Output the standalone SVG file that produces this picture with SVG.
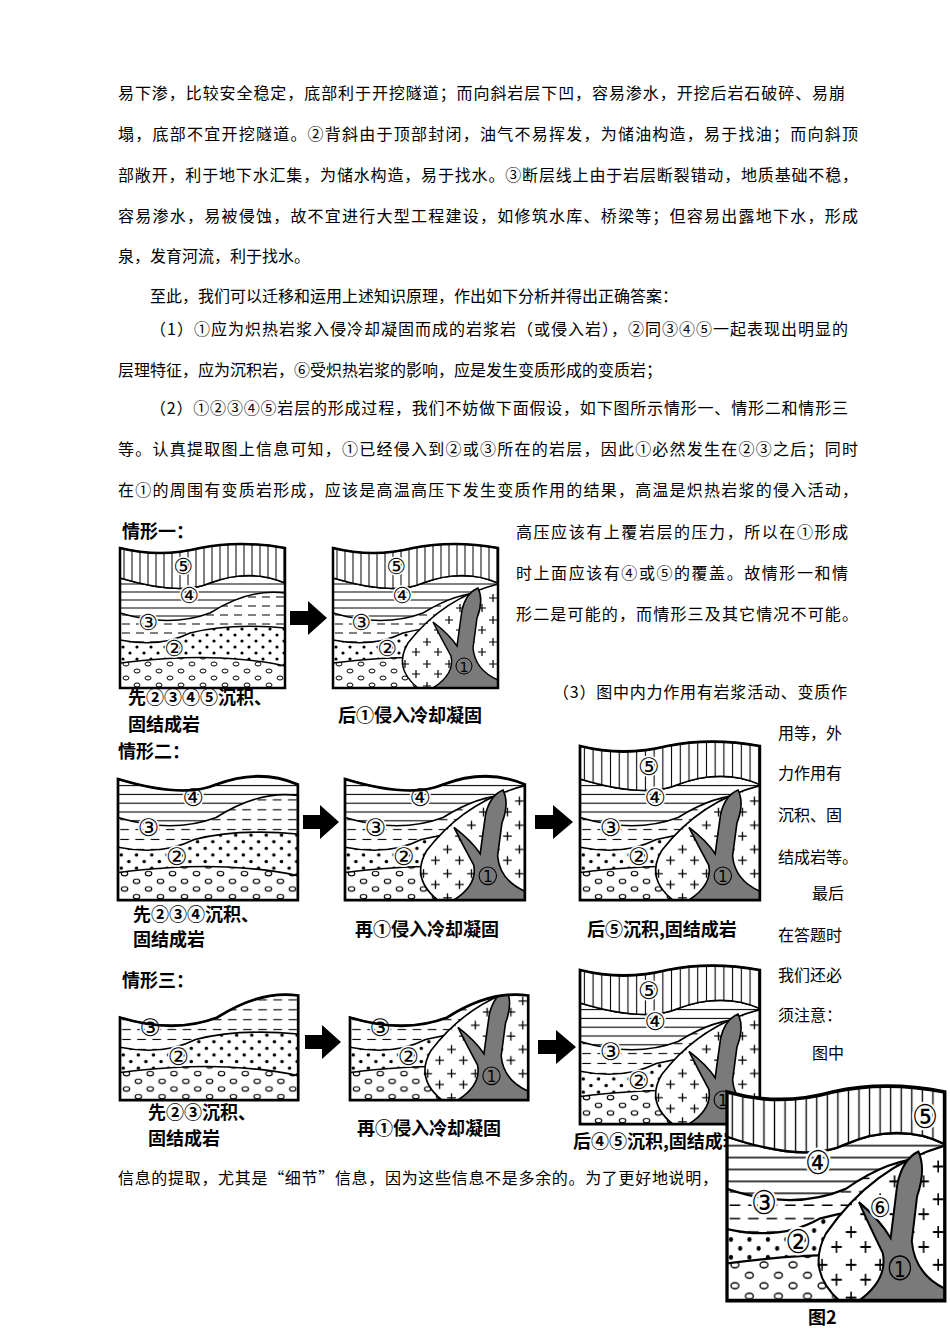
<svg xmlns="http://www.w3.org/2000/svg" width="950" height="1344" viewBox="0 0 950 1344">
<style>
.t{font-family:"Noto Sans CJK SC","Liberation Serif",serif;font-size:16px;fill:#000}
.b{font-family:"Noto Sans CJK SC","Liberation Sans",sans-serif;font-size:18px;font-weight:bold;fill:#000}
.n{font-family:"DejaVu Sans",sans-serif;font-size:22px;fill:#000;text-anchor:middle;paint-order:stroke;stroke:#fff;stroke-width:3px}
.ly{stroke:#000;stroke-width:1.5}
.fr{fill:none;stroke:#000;stroke-width:2.5}
</style>
<defs>
<pattern id="pv" width="8" height="10" patternUnits="userSpaceOnUse"><rect width="8" height="10" fill="#fff"/><line x1="4" y1="0" x2="4" y2="10" stroke="#000" stroke-width="1"/></pattern>
<pattern id="ph" width="10" height="8" patternUnits="userSpaceOnUse"><rect width="10" height="8" fill="#fff"/><line x1="0" y1="4" x2="10" y2="4" stroke="#000" stroke-width="1"/></pattern>
<pattern id="pd" width="14" height="9" patternUnits="userSpaceOnUse"><rect width="14" height="9" fill="#fff"/><line x1="2" y1="4" x2="10" y2="4" stroke="#000" stroke-width="1"/></pattern>
<pattern id="pdot" width="14" height="12" patternUnits="userSpaceOnUse"><rect width="14" height="12" fill="#fff"/><circle cx="3" cy="3" r="1.6"/><circle cx="10" cy="9" r="1.6"/></pattern>
<pattern id="pov" width="22" height="14" patternUnits="userSpaceOnUse"><rect width="22" height="14" fill="#fff"/><ellipse cx="6" cy="4" rx="3" ry="2" fill="none" stroke="#000"/><ellipse cx="17" cy="11" rx="3" ry="2" fill="none" stroke="#000"/></pattern>
<pattern id="pp" width="22" height="22" patternUnits="userSpaceOnUse"><rect width="22" height="22" fill="#fff"/><path d="M2,6h8M6,2v8M13,16h8M17,12v8" stroke="#000" stroke-width="1.2"/></pattern>
<g id="L4"><path class="ly" fill="url(#ph)" d="M0,30 Q60,48 90,35 Q130,20 165,35 L165,140 L0,140Z"/></g>
<g id="L5"><path class="ly" fill="url(#pv)" d="M0,0 Q40,10 80,0 Q120,-8 165,0 L165,35 Q130,20 90,35 Q60,48 0,30Z"/></g>
<g id="L321">
<path class="ly" fill="url(#pd)" d="M0,65 Q50,80 90,65 Q130,40 165,45 L165,140 L0,140Z"/>
<path class="ly" fill="url(#pdot)" d="M0,92 Q40,100 70,85 Q110,75 165,80 L165,140 L0,140Z"/>
<path class="ly" fill="url(#pov)" d="M0,115 Q60,108 100,110 Q140,112 165,118 L165,140 L0,140Z"/>
</g>
<g id="intr">
<path class="ly" fill="url(#pp)" d="M165,36 Q110,50 75,95 Q60,120 85,140 L165,140Z"/>
<path class="ly" fill="#7a7a7a" d="M100,140 Q122,126 118,108 Q108,90 100,74 Q116,86 124,98 L129,62 Q133,45 145,40 Q151,52 144,70 L140,100 Q142,122 165,132 L165,140Z"/>
<circle cx="131" cy="118" r="8" fill="none" stroke="#000"/><text x="131" y="124" style="font-family:'DejaVu Sans',sans-serif;font-size:14px;text-anchor:middle">1</text>
</g>
<g id="lab23"><text class="n" x="28" y="82">③</text><text class="n" x="54" y="108">②</text></g>
<g id="lab4"><text class="n" x="69" y="55">④</text></g>
<g id="lab5"><text class="n" x="63" y="26">⑤</text></g>
<clipPath id="c3"><path d="M0,65 Q50,80 90,65 Q130,40 165,45 L165,140 L0,140Z"/></clipPath>
</defs>

<g id="text">
<text class="t" x="118" y="99" textLength="727">易下渗，比较安全稳定，底部利于开挖隧道；而向斜岩层下凹，容易渗水，开挖后岩石破碎、易崩</text>
<text class="t" x="118" y="140" textLength="740">塌，底部不宜开挖隧道。②背斜由于顶部封闭，油气不易挥发，为储油构造，易于找油；而向斜顶</text>
<text class="t" x="118" y="181" textLength="740">部敞开，利于地下水汇集，为储水构造，易于找水。③断层线上由于岩层断裂错动，地质基础不稳，</text>
<text class="t" x="118" y="222" textLength="740">容易渗水，易被侵蚀，故不宜进行大型工程建设，如修筑水库、桥梁等；但容易出露地下水，形成</text>
<text class="t" x="118" y="262">泉，发育河流，利于找水。</text>
<text class="t" x="150" y="302">至此，我们可以迁移和运用上述知识原理，作出如下分析并得出正确答案：</text>
<text class="t" x="150" y="335" textLength="698">（1）①应为炽热岩浆入侵冷却凝固而成的岩浆岩（或侵入岩），②同③④⑤一起表现出明显的</text>
<text class="t" x="118" y="376">层理特征，应为沉积岩，⑥受炽热岩浆的影响，应是发生变质形成的变质岩；</text>
<text class="t" x="150" y="414" textLength="698">（2）①②③④⑤岩层的形成过程，我们不妨做下面假设，如下图所示情形一、情形二和情形三</text>
<text class="t" x="118" y="455" textLength="740">等。认真提取图上信息可知，①已经侵入到②或③所在的岩层，因此①必然发生在②③之后；同时</text>
<text class="t" x="118" y="496" textLength="740">在①的周围有变质岩形成，应该是高温高压下发生变质作用的结果，高温是炽热岩浆的侵入活动，</text>
<text class="t" x="516" y="538" textLength="332">高压应该有上覆岩层的压力，所以在①形成</text>
<text class="t" x="516" y="579" textLength="332">时上面应该有④或⑤的覆盖。故情形一和情</text>
<text class="t" x="516" y="620" textLength="342">形二是可能的，而情形三及其它情况不可能。</text>
<text class="t" x="553" y="698" textLength="294">（3）图中内力作用有岩浆活动、变质作</text>
<text class="t" x="778" y="739">用等，外</text>
<text class="t" x="778" y="779">力作用有</text>
<text class="t" x="778" y="821">沉积、固</text>
<text class="t" x="778" y="863">结成岩等。</text>
<text class="t" x="812" y="899">最后</text>
<text class="t" x="778" y="941">在答题时</text>
<text class="t" x="778" y="981">我们还必</text>
<text class="t" x="778" y="1021">须注意：</text>
<text class="t" x="812" y="1059">图中</text>
<text class="t" x="118" y="1184" textLength="600">信息的提取，尤其是“细节”信息，因为这些信息不是多余的。为了更好地说明，</text>
</g>

<g id="labels">
<text class="b" x="122" y="538">情形一：</text>
<text class="b" x="128" y="704">先②③④⑤沉积、</text>
<text class="b" x="128" y="731">固结成岩</text>
<text class="b" x="338" y="722">后①侵入冷却凝固</text>
<text class="b" x="118" y="758">情形二：</text>
<text class="b" x="133" y="921">先②③④沉积、</text>
<text class="b" x="133" y="946">固结成岩</text>
<text class="b" x="355" y="936">再①侵入冷却凝固</text>
<text class="b" x="587" y="936">后⑤沉积,固结成岩</text>
<text class="b" x="122" y="987">情形三：</text>
<text class="b" x="148" y="1119">先②③沉积、</text>
<text class="b" x="148" y="1145">固结成岩</text>
<text class="b" x="357" y="1135">再①侵入冷却凝固</text>
<text class="b" x="573" y="1148">后④⑤沉积,固结成岩</text>
<text class="b" x="808" y="1324">图2</text>
</g>

<g id="connectors">
<path d="M290,611 H308 V601 L327,618 L308,635 V625 H290Z"/>
<path d="M303,815 H320 V805 L339,822 L320,839 V829 H303Z"/>
<path d="M535,815 H553 V805 L573,822 L553,839 V829 H535Z"/>
<path d="M305,1035 H322 V1025 L341,1042 L322,1059 V1049 H305Z"/>
<path d="M538,1040 H556 V1030 L576,1047 L556,1064 V1054 H538Z"/>
</g>

<g id="b1" transform="translate(120,548)">
<use href="#L4"/><use href="#L321"/><use href="#L5"/><use href="#lab23"/><use href="#lab4"/><use href="#lab5"/>
<path class="fr" d="M0,0 Q40,10 80,0 Q120,-8 165,0 V140 H0Z"/>
</g>
<g id="b2" transform="translate(333,548)">
<use href="#L4"/><use href="#L321"/><use href="#L5"/><use href="#intr"/><use href="#lab23"/><use href="#lab4"/><use href="#lab5"/>
<path class="fr" d="M0,0 Q40,10 80,0 Q120,-8 165,0 V140 H0Z"/>
</g>
<g id="b3" transform="translate(118,746) scale(1.09,1.1)">
<use href="#L4"/><use href="#L321"/><use href="#lab23"/><use href="#lab4"/>
<path class="fr" d="M0,30 Q60,48 90,35 Q130,20 165,35 V140 H0Z"/>
</g>
<g id="b4" transform="translate(345,746) scale(1.09,1.1)">
<use href="#L4"/><use href="#L321"/><use href="#intr"/><use href="#lab23"/><use href="#lab4"/>
<path class="fr" d="M0,30 Q60,48 90,35 Q130,20 165,35 V140 H0Z"/>
</g>
<g id="b5" transform="translate(580,746) scale(1.09,1.1)">
<use href="#L4"/><use href="#L321"/><use href="#intr"/><use href="#L5"/><use href="#lab23"/><use href="#lab4"/><use href="#lab5"/>
<path class="fr" d="M0,0 Q40,10 80,0 Q120,-8 165,0 V140 H0Z"/>
</g>
<g id="b6" transform="translate(120,946) scale(1.08,1.1)">
<use href="#L321"/><use href="#lab23"/>
<path class="fr" d="M0,65 Q50,80 90,65 Q130,40 165,45 V140 H0Z"/>
</g>
<g id="b7" transform="translate(350,946) scale(1.08,1.1)">
<use href="#L321"/><g clip-path="url(#c3)"><use href="#intr"/></g><use href="#lab23"/>
<path class="fr" d="M0,65 Q50,80 90,65 Q130,40 165,45 V140 H0Z"/>
</g>
<g id="b8" transform="translate(580,970) scale(1.09,1.1)">
<use href="#L4"/><use href="#L321"/><use href="#intr"/><use href="#L5"/><use href="#lab23"/><use href="#lab4"/><use href="#lab5"/>
<path class="fr" d="M0,0 Q40,10 80,0 Q120,-8 165,0 V140 H0Z"/>
</g>
<g id="fig2" transform="translate(727,1092) scale(1.32,1.49)">
<use href="#L4"/><use href="#L321"/><use href="#intr"/><use href="#L5"/><use href="#lab23"/><use href="#lab4"/>
<text class="n" x="150" y="24">⑤</text>
<text class="n" x="116" y="84" style="font-size:18px">⑥</text>
<path class="fr" d="M0,0 Q40,10 80,0 Q120,-8 165,0 V140 H0Z"/>
</g>
</svg>
